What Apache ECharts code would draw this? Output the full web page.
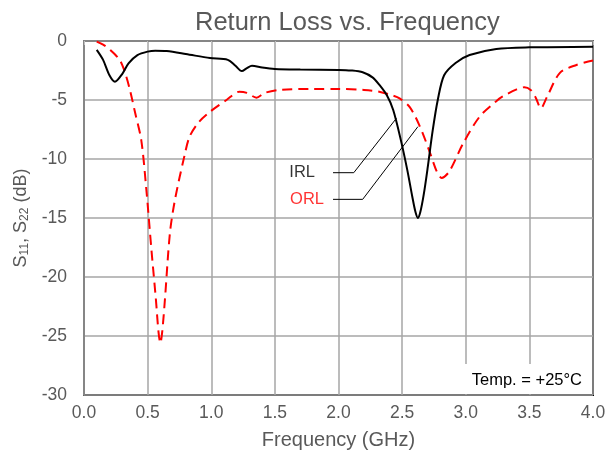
<!DOCTYPE html>
<html>
<head>
<meta charset="utf-8">
<script src="https://cdn.jsdelivr.net/npm/echarts@6/dist/echarts.min.js"></script>
<style>html,body{margin:0;padding:0;background:#fff}#c{width:614px;height:455px}</style>
</head>
<body>
<div id="c"></div>
<script>
// Frequency (GHz), dB
const irlFreq = [0.1,0.15,0.2,0.243,0.3,0.35,0.42,0.5,0.56,0.65,0.8,0.99,1.13,1.19,1.24,1.28,1.32,1.4,1.5,1.7,2.0,2.1,2.19,2.27,2.32,2.38,2.43,2.49,2.54,2.58,2.605,2.624,2.643,2.67,2.70,2.74,2.78,2.83,2.92,3.03,3.24,3.5,4.0];
const irlDb   = [-0.75,-1.6,-2.9,-3.45,-2.8,-1.9,-1.2,-0.9,-0.82,-0.85,-1.1,-1.45,-1.6,-2.1,-2.55,-2.3,-2.1,-2.25,-2.37,-2.42,-2.45,-2.5,-2.65,-3.1,-3.7,-4.6,-5.85,-8.4,-10.9,-13.2,-14.5,-15.0,-14.5,-13.0,-10.8,-7.6,-5.0,-2.9,-1.86,-1.19,-0.68,-0.54,-0.48];
const orlFreq = [0.1,0.15,0.2,0.28,0.32,0.36,0.4,0.45,0.49,0.53,0.565,0.585,0.6,0.615,0.636,0.675,0.714,0.79,0.83,0.9,0.99,1.12,1.22,1.28,1.355,1.42,1.54,1.8,2.0,2.2,2.32,2.42,2.48,2.56,2.64,2.72,2.77,2.81,2.87,2.98,3.11,3.24,3.29,3.4,3.46,3.51,3.55,3.59,3.64,3.74,3.87,4.0];
const orlDb   = [-0.05,-0.3,-0.7,-1.6,-2.6,-4.1,-6.0,-8.4,-12.6,-17.7,-21.9,-24.6,-25.6,-24.6,-21.9,-16.3,-13.5,-9.7,-8.1,-6.9,-6.0,-5.0,-4.3,-4.4,-4.8,-4.4,-4.15,-4.06,-4.06,-4.15,-4.3,-4.6,-4.86,-5.6,-7.25,-9.5,-11.0,-11.6,-11.07,-8.67,-6.4,-5.1,-4.7,-4.1,-3.92,-4.15,-4.8,-5.7,-4.7,-2.7,-2.03,-1.65];
const irlLeader = [[1.957,-11.16],[2.12,-11.16],[2.455,-6.55]];
const orlLeader = [[1.957,-13.42],[2.19,-13.42],[2.624,-7.26]];
const xTicks = [0,0.5,1,1.5,2,2.5,3,3.5,4];
const yTicks = [0,-5,-10,-15,-20,-25,-30];
const titleText = 'Return Loss vs. Frequency';
const xName = 'Frequency (GHz)';
const tempText = 'Temp. = +25°C';
const labels = ['IRL','ORL'];

const F = 'Liberation Sans, Arial, sans-serif';
const zip = (a,b) => a.map((v,i)=>[v,b[i]]);
const chart = echarts.init(document.getElementById('c'));
chart.setOption({
  animation:false,
  textStyle:{fontFamily:F},
  title:{text:titleText,left:190,top:5,textStyle:{fontFamily:F,fontSize:25.5,fontWeight:'normal',color:'#595959'}},
  grid:{left:84,right:21,top:41,bottom:60,show:true,borderColor:'#000',borderWidth:2,backgroundColor:'transparent'},
  xAxis:{type:'value',min:0,max:4,interval:0.5,
    name:xName,nameLocation:'middle',nameGap:35,nameTextStyle:{fontSize:20,color:'#595959',fontFamily:F},
    axisLine:{lineStyle:{color:'#868686',width:2}},
    axisTick:{show:true,length:4,lineStyle:{color:'#bfbfbf'}},
    axisLabel:{fontSize:17.5,color:'#595959',margin:9,formatter:v=>v.toFixed(1)},
    splitLine:{lineStyle:{color:'#a6a6a6',width:1.5}}},
  yAxis:{type:'value',min:-30,max:0,interval:5,
    name:'{a|S}{s|11}{a|, S}{s|22}{a| (dB)}',nameLocation:'middle',nameGap:50,
    nameTextStyle:{rich:{a:{fontSize:18,color:'#595959',fontFamily:F},s:{fontSize:12,color:'#595959',fontFamily:F,padding:[8,0,0,0]}}},
    axisLine:{show:true,lineStyle:{color:'#868686',width:2}},
    axisTick:{show:false},
    axisLabel:{fontSize:17.5,color:'#595959',margin:17},
    splitLine:{lineStyle:{color:'#a6a6a6',width:1.5}}},
  graphic:[
    {type:'rect',shape:{x:462,y:364,width:129,height:30},style:{fill:'#fff'},z:100},
    {type:'text',x:582,y:380,style:{text:tempText,textAlign:'right',textVerticalAlign:'middle',fontSize:16.5,fill:'#000',fontFamily:F},z:101}
  ],
  series:[
    {type:'line',data:zip(orlFreq,orlDb),smooth:0.3,symbol:'none',lineStyle:{color:'#ff0000',width:2,type:[10,6]},z:3},
    {type:'line',data:zip(irlFreq,irlDb),smooth:0.3,symbol:'none',lineStyle:{color:'#000',width:2},z:4},
    {type:'line',data:irlLeader,symbol:'none',lineStyle:{color:'#000',width:1},silent:true,z:2},
    {type:'line',data:orlLeader,symbol:'none',lineStyle:{color:'#000',width:1},silent:true,z:2},
    {type:'scatter',symbolSize:0,silent:true,z:5,
      data:[{value:irlLeader[0],label:{show:true,position:'left',distance:18,formatter:labels[0],fontSize:16.5,color:'#000',fontFamily:F}},
            {value:orlLeader[0],label:{show:true,position:'left',distance:9,formatter:labels[1],fontSize:16.5,color:'#ff0000',fontFamily:F}}]}
  ]
});
</script>
</body>
</html>
